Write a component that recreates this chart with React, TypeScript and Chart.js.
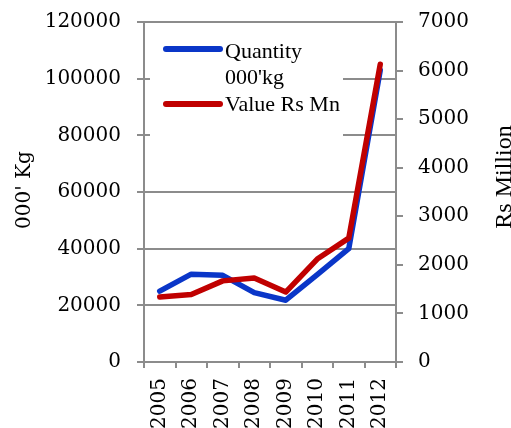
import React, { useEffect, useRef } from "react";
import { Chart, registerables } from "chart.js";

Chart.register(...registerables);

const years = ["2005", "2006", "2007", "2008", "2009", "2010", "2011", "2012"];
const quantityKg = [25000, 31000, 30600, 24500, 21800, 30800, 40000, 103000];
const valueRsMn = [1340, 1390, 1670, 1730, 1440, 2120, 2550, 6130];
const quantityLegend = ["Quantity", "000'kg"];
const valueLegend = ["Value Rs Mn"];
const leftTitle = "000' Kg";
const rightTitle = "Rs Million";

const BLUE = "#0a36c8";
const RED = "#c00000";
const GRID = "#8c8c8c";
const DIGIT_FONT = "DejaVu Serif";
const TEXT_FONT = "Liberation Serif";

const plainNumber = (v: any) => String(v);

const decorations = {
  id: "decorations",
  beforeDatasetsDraw(chart: any) {
    const ctx = chart.ctx;
    const area = chart.chartArea;
    // white backing behind the legend block
    ctx.save();
    ctx.fillStyle = "#ffffff";
    ctx.fillRect(area.left + 6, area.top + 9, 193, 105);
    ctx.restore();
  },
  afterDraw(chart: any) {
    const ctx = chart.ctx;
    const area = chart.chartArea;
    ctx.save();
    // legend
    const items = [
      { color: BLUE, lines: quantityLegend, lineY: area.top + 27, textY: area.top + 36 },
      { color: RED, lines: valueLegend, lineY: area.top + 82, textY: area.top + 89 },
    ];
    ctx.lineCap = "round";
    ctx.lineWidth = 6;
    ctx.font = `22px "${TEXT_FONT}"`;
    ctx.fillStyle = "#000";
    ctx.textBaseline = "alphabetic";
    ctx.textAlign = "left";
    for (const it of items) {
      ctx.strokeStyle = it.color;
      ctx.beginPath();
      ctx.moveTo(area.left + 22, it.lineY);
      ctx.lineTo(area.left + 76, it.lineY);
      ctx.stroke();
      it.lines.forEach((t: string, i: number) => {
        ctx.fillText(t, area.left + 81, it.textY + i * 25.5);
      });
    }
    // axis titles
    ctx.textAlign = "center";
    ctx.font = `20px "${DIGIT_FONT}"`;
    ctx.save();
    ctx.translate(30, 190);
    ctx.rotate(-Math.PI / 2);
    ctx.fillText(leftTitle, 0, 0);
    ctx.restore();
    ctx.font = `24px "${TEXT_FONT}"`;
    ctx.save();
    ctx.translate(511, 177);
    ctx.rotate(-Math.PI / 2);
    ctx.fillText(rightTitle, 0, 0);
    ctx.restore();
    ctx.restore();
  },
};

export default function App() {
  const ref = useRef<HTMLCanvasElement | null>(null);

  useEffect(() => {
    if (!ref.current) return;
    const tickFont = { family: DIGIT_FONT, size: 20 };
    const chart = new Chart(ref.current, {
      type: "line",
      data: {
        labels: years,
        datasets: [
          {
            label: quantityLegend.join(" "),
            data: quantityKg,
            yAxisID: "y",
            borderColor: BLUE,
            backgroundColor: BLUE,
            borderWidth: 5.5,
            pointRadius: 0,
            borderJoinStyle: "round",
            borderCapStyle: "round",
            tension: 0,
            order: 1,
          },
          {
            label: valueLegend.join(" "),
            data: valueRsMn,
            yAxisID: "y1",
            borderColor: RED,
            backgroundColor: RED,
            borderWidth: 5.5,
            pointRadius: 0,
            borderJoinStyle: "round",
            borderCapStyle: "round",
            tension: 0,
            order: 0,
          },
        ],
      },
      options: {
        animation: false,
        responsive: false,
        maintainAspectRatio: false,
        layout: { padding: { top: 22, left: 0, right: 0, bottom: 0 } },
        plugins: {
          legend: { display: false },
          tooltip: { enabled: false },
        },
        scales: {
          x: {
            type: "category",
            offset: true,
            grid: {
              offset: true,
              drawOnChartArea: false,
              color: GRID,
              lineWidth: 2,
              tickLength: 6,
            },
            border: { color: GRID, width: 2 },
            ticks: {
              autoSkip: false,
              minRotation: 90,
              maxRotation: 90,
              padding: 10,
              color: "#000",
              font: tickFont,
            },
            afterFit(scale: any) {
              scale.height = 66;
              scale.paddingLeft = 0;
              scale.paddingRight = 0;
            },
          },
          y: {
            position: "left",
            min: 0,
            max: 120000,
            grid: { color: GRID, lineWidth: 2, tickLength: 7 },
            border: { color: GRID, width: 2 },
            ticks: {
              stepSize: 20000,
              padding: 16,
              color: "#000",
              font: tickFont,
              callback: plainNumber,
            },
            afterFit(scale: any) {
              scale.width = 144;
              scale.paddingTop = 0;
              scale.paddingBottom = 0;
            },
          },
          y1: {
            position: "right",
            min: 0,
            max: 7000,
            grid: { drawOnChartArea: false, color: GRID, lineWidth: 2, tickLength: 7 },
            border: { color: GRID, width: 2 },
            ticks: {
              stepSize: 1000,
              padding: 15,
              color: "#000",
              font: tickFont,
              callback: plainNumber,
            },
            afterFit(scale: any) {
              scale.width = 115;
              scale.paddingTop = 0;
              scale.paddingBottom = 0;
            },
          },
        },
      },
      plugins: [decorations],
    });
    return () => chart.destroy();
  }, []);

  return (
    <div style={{ position: "fixed", left: 0, top: 0, width: 511, height: 428, background: "#fff" }}>
      <canvas ref={ref} width={511} height={428} style={{ width: 511, height: 428 }} />
    </div>
  );
}
